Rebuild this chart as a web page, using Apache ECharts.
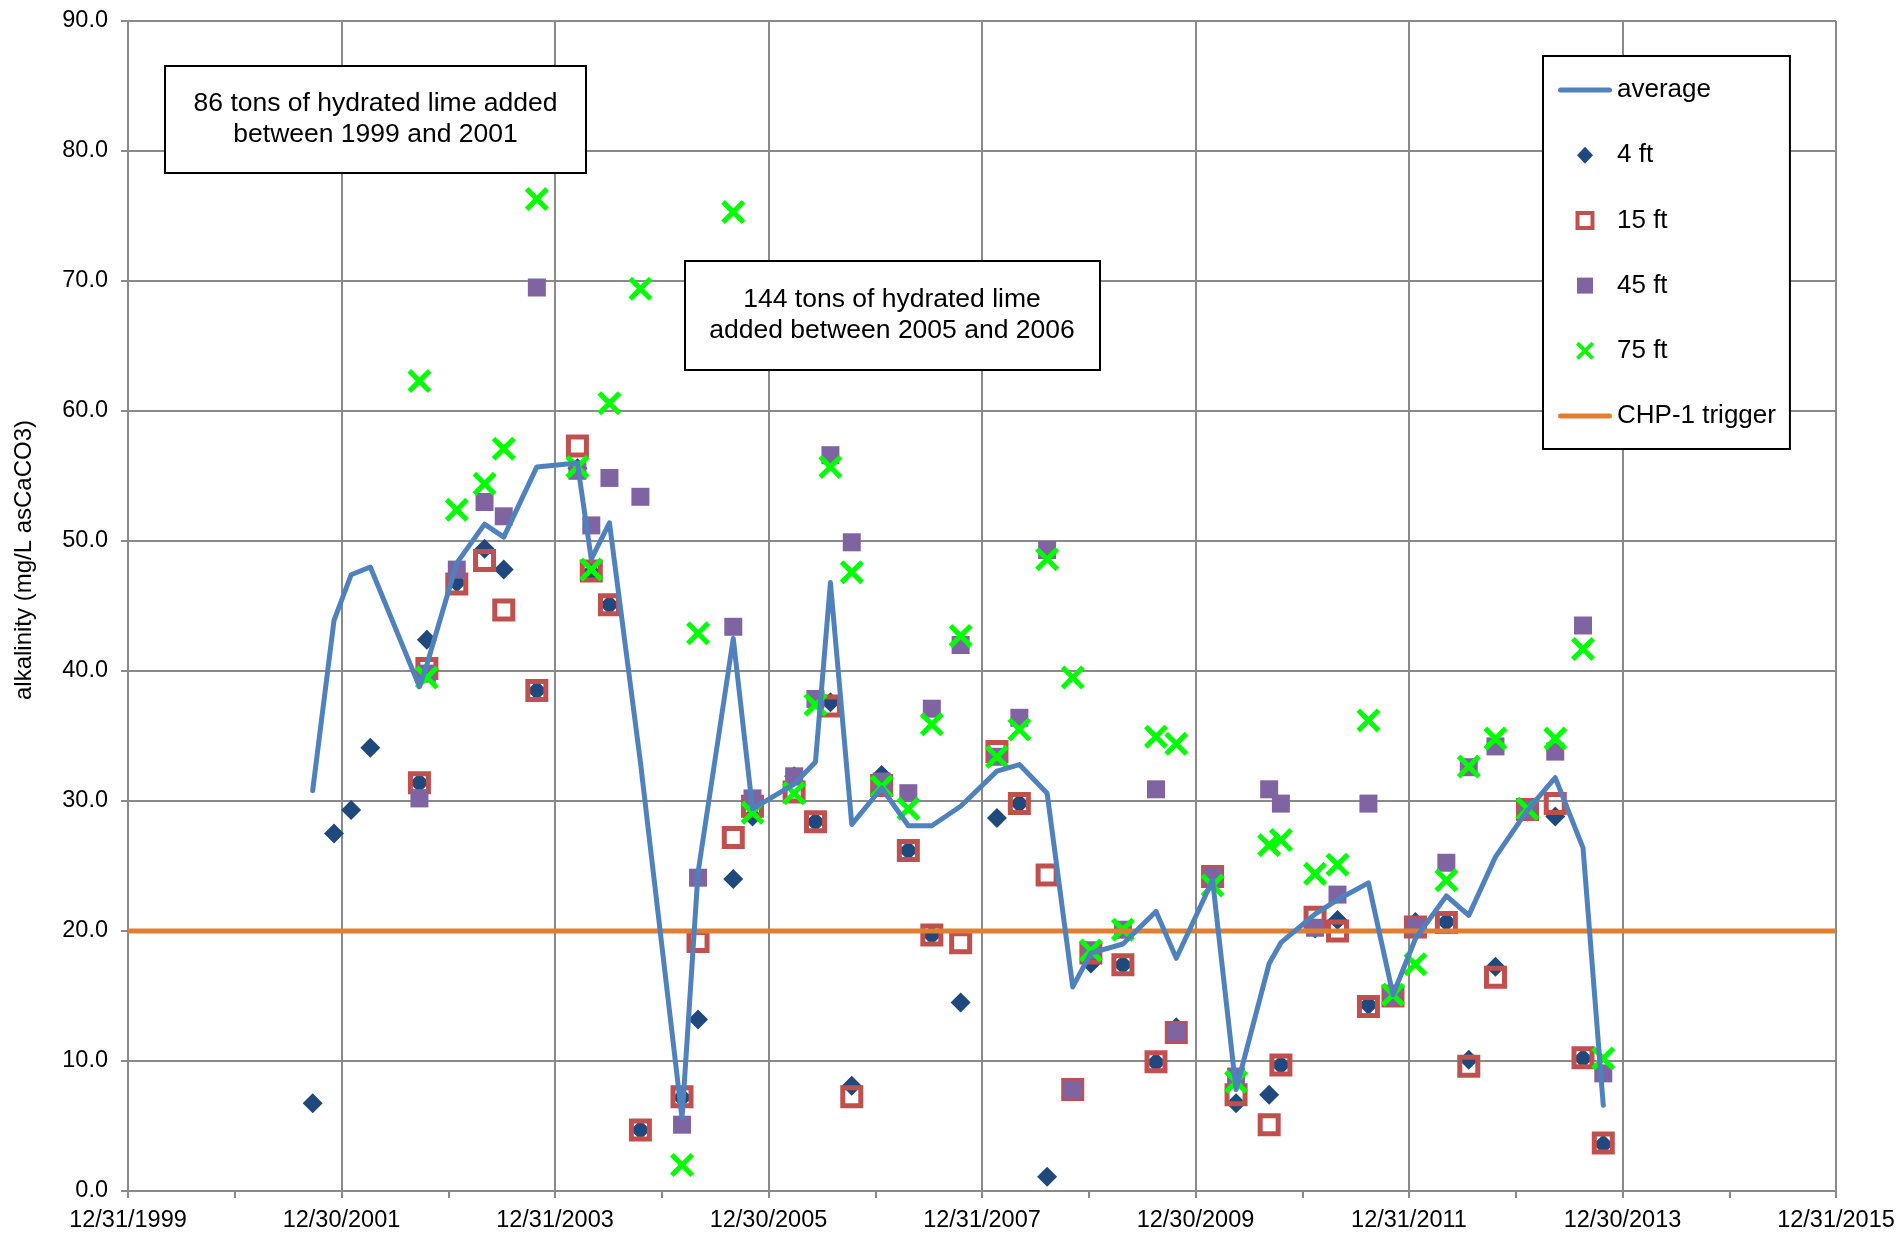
<!DOCTYPE html>
<html>
<head>
<meta charset="utf-8">
<title>alkalinity</title>
<script src="https://cdn.jsdelivr.net/npm/echarts@6/dist/echarts.min.js"></script>
<style>
  html, body { margin: 0; padding: 0; background: #fff; }
  #chart { width: 1900px; height: 1233px; }
</style>
</head>
<body>
<div id="chart"></div>
<script>
// sample dates, as decimal years
const sampleYears = [
  2001.73, 2001.93, 2002.09, 2002.27, 2002.73, 2002.80, 2003.08, 2003.34, 2003.52, 2003.83,
  2004.21, 2004.34, 2004.51, 2004.80, 2005.19, 2005.34, 2005.67, 2005.85, 2006.24, 2006.44,
  2006.58, 2006.78, 2007.06, 2007.31, 2007.53, 2007.80, 2008.14, 2008.35, 2008.61, 2008.85,
  2009.02, 2009.32, 2009.63, 2009.82, 2010.16, 2010.38, 2010.69, 2010.80, 2011.12, 2011.33,
  2011.62, 2011.85, 2012.06, 2012.35, 2012.56, 2012.81, 2013.11, 2013.37, 2013.63, 2013.82
]
const average = [
  30.8, 43.9, 47.4, 48.0, 38.8, 40.5, 48.3, 51.3, 50.3, 55.7,
  56.0, 48.6, 51.4, 33.0, 5.6, 24.5, 42.5, 29.4, 31.3, 33.0,
  46.8, 28.2, 31.0, 28.1, 28.1, 29.6, 32.3, 32.8, 30.6, 15.7,
  18.3, 19.0, 21.5, 17.9, 23.9, 7.8, 17.5, 19.1, 21.3, 22.4,
  23.7, 15.1, 19.4, 22.7, 21.2, 25.7, 29.3, 31.8, 26.4, 6.6
]
const ft4 = [
  6.75, 27.5, 29.3, 34.1, 31.4, 42.4, 46.8, 49.4, 47.8, 38.5,
  55.6, 47.6, 45.1, 4.7, 7.2, 13.2, 24.0, 28.8, 31.9, 28.4,
  37.6, 8.1, 32.0, 26.2, 19.7, 14.5, 28.7, 29.8, 1.1, 7.7,
  17.5, 17.4, 9.9, 12.6, 24.0, 6.75, 7.4, 9.7, 20.2, 20.85,
  14.3, 15.0, 20.7, 20.7, 10.1, 17.25, 29.2, 28.8, 10.2, 3.6
]
const ft15 = [
  null, null, null, null, 31.4, 40.2, 46.7, 48.5, 44.7, 38.5,
  57.3, 47.7, 45.1, 4.7, 7.25, 19.2, 27.2, 29.6, 30.7, 28.4,
  37.3, 7.25, 31.2, 26.2, 19.7, 19.1, 33.8, 29.8, 24.3, 7.8,
  18.3, 17.4, 9.95, 12.2, 24.2, 7.4, 5.1, 9.7, 21.05, 20.0,
  14.2, 15.0, 20.3, 20.65, 9.6, 16.45, 29.35, 29.8, 10.25, 3.7
]
const ft45 = [
  null, null, null, null, 30.2, 39.8, 47.8, 53.0, 51.9, 69.5,
  55.4, 51.2, 54.85, 53.4, 5.1, 24.1, 43.4, 30.2, 31.9, 37.85,
  56.6, 49.9, 31.5, 30.6, 37.1, 42.0, 33.4, 36.4, 49.3, 7.8,
  18.5, 20.1, 30.9, 12.25, 24.2, 8.8, 30.9, 29.8, 20.25, 22.8,
  29.8, 14.95, 20.3, 25.25, 32.6, 34.2, 29.35, 33.8, 43.5, 9.05
]
const ft75 = [
  null, null, null, null, 62.3, 39.5, 52.4, 54.4, 57.1, 76.3,
  55.7, 47.8, 60.6, 69.4, 2.0, 42.9, 75.3, 29.1, 30.6, 37.4,
  55.7, 47.6, 31.1, 29.4, 35.9, 42.7, 33.4, 35.5, 48.6, 39.5,
  18.5, 20.1, 34.95, 34.4, 23.5, 8.4, 26.6, 27.0, 24.4, 25.1,
  36.2, 15.1, 17.45, 23.9, 32.65, 34.8, 29.4, 34.8, 41.7, 10.2
]
const triggerLevel = 20
const xMin = 2000
const xMax = 2016
const xTickLabels = ['12/31/1999', '12/30/2001', '12/31/2003', '12/30/2005', '12/31/2007',
  '12/30/2009', '12/31/2011', '12/30/2013', '12/31/2015']

const FONT = '"Liberation Sans", Arial, sans-serif'
const GRID_GREY = '#8a8a8a'
const xMark = 'path://M15,0L50,35L85,0L100,15L65,50L100,85L85,100L50,65L15,100L0,85L35,50L0,15Z'

// legend icons live in a 54x18 box (the leading moves keep the box size)
const BOX = 'M0,0M54,18'
const iconBar = 'path://M2.5,6.5H51.5A2.5,2.5,0,0,1,51.5,11.5H2.5A2.5,2.5,0,0,1,2.5,6.5Z'
const iconDiamond = 'path://' + BOX + 'M27,0.5L35,9L27,17.5L19,9Z'
const iconHollow = 'path://' + BOX + 'M19.5,1.5H34.5V16.5H19.5Z'
const iconSquare = 'path://' + BOX + 'M19,1H35V17H19Z'
const iconX = 'path://' + BOX + 'M20.7,0L27,6.3L33.3,0L36,2.7L29.7,9L36,15.3L33.3,18L27,11.7L20.7,18L18,15.3L24.3,9L18,2.7Z'

function pairs (vals) {
  return sampleYears.map((x, i) => [x, vals[i]]).filter(p => p[1] !== null)
}

let option = {
  animation: false,
  backgroundColor: '#fff',
  textStyle: { fontFamily: FONT },
  grid: { left: 128, right: 64, top: 21, bottom: 42 },
  legend: {
    orient: 'vertical',
    left: 1543,
    top: 56,
    padding: [21, 14, 20, 13],
    itemWidth: 54,
    itemHeight: 18,
    itemGap: 39.2,
    backgroundColor: '#fff',
    borderColor: '#000',
    borderWidth: 2,
    borderRadius: 0,
    selectedMode: false,
    textStyle: { fontSize: 26, lineHeight: 26, color: '#000', fontFamily: FONT },
    data: [
      { name: 'average', icon: iconBar, itemStyle: { color: '#4F81BD' } },
      { name: '4 ft', icon: iconDiamond, itemStyle: { color: '#1F497D' } },
      { name: '15 ft', icon: iconHollow, itemStyle: { color: 'rgba(0,0,0,0)', borderColor: '#C0504D', borderWidth: 4 } },
      { name: '45 ft', icon: iconSquare, itemStyle: { color: '#8064A2' } },
      { name: '75 ft', icon: iconX, itemStyle: { color: '#00FF00' } },
      { name: 'CHP-1 trigger', icon: iconBar, itemStyle: { color: '#E07F31' } }
    ]
  },
  xAxis: {
    type: 'value',
    min: xMin,
    max: xMax,
    interval: 2,
    axisLine: { show: true, onZero: false, lineStyle: { color: GRID_GREY, width: 2 } },
    axisTick: { show: true, length: 7, lineStyle: { color: GRID_GREY, width: 2 } },
    minorTick: { show: true, splitNumber: 2, length: 7, lineStyle: { color: GRID_GREY, width: 2 } },
    splitLine: { show: true, lineStyle: { color: GRID_GREY, width: 2 } },
    axisLabel: {
      margin: 18,
      fontSize: 23.5,
      color: '#000',
      fontFamily: FONT,
      formatter: v => xTickLabels[Math.round((v - xMin) / 2)]
    }
  },
  yAxis: {
    type: 'value',
    min: 0,
    max: 90,
    interval: 10,
    axisLine: { show: true, lineStyle: { color: GRID_GREY, width: 2 } },
    axisTick: { show: true, length: 7, lineStyle: { color: GRID_GREY, width: 2 } },
    splitLine: { show: true, lineStyle: { color: GRID_GREY, width: 2 } },
    axisLabel: {
      margin: 20,
      fontSize: 23.5,
      color: '#000',
      fontFamily: FONT,
      formatter: v => v.toFixed(1)
    }
  },
  graphic: [
    {
      type: 'text',
      x: 24,
      y: 560,
      rotation: Math.PI / 2,
      style: {
        text: 'alkalinity (mg/L asCaCO3)',
        font: '24px ' + FONT,
        fill: '#000',
        textAlign: 'center',
        textVerticalAlign: 'middle'
      }
    },
    {
      type: 'rect',
      shape: { x: 165, y: 66, width: 421, height: 107 },
      style: { fill: '#fff', stroke: '#000', lineWidth: 2 },
      z: 10
    },
    {
      type: 'text',
      x: 375.5,
      y: 104,
      style: { text: '86 tons of hydrated lime added', font: '26.5px ' + FONT, fill: '#000', textAlign: 'center', textVerticalAlign: 'middle' },
      z: 11
    },
    {
      type: 'text',
      x: 375.5,
      y: 134.5,
      style: { text: 'between 1999 and 2001', font: '26.5px ' + FONT, fill: '#000', textAlign: 'center', textVerticalAlign: 'middle' },
      z: 11
    },
    {
      type: 'rect',
      shape: { x: 685, y: 261, width: 415, height: 109 },
      style: { fill: '#fff', stroke: '#000', lineWidth: 2 },
      z: 10
    },
    {
      type: 'text',
      x: 892,
      y: 300,
      style: { text: '144 tons of hydrated lime', font: '26.5px ' + FONT, fill: '#000', textAlign: 'center', textVerticalAlign: 'middle' },
      z: 11
    },
    {
      type: 'text',
      x: 892,
      y: 331,
      style: { text: 'added between 2005 and 2006', font: '26.5px ' + FONT, fill: '#000', textAlign: 'center', textVerticalAlign: 'middle' },
      z: 11
    }
  ],
  series: [
    {
      name: 'CHP-1 trigger',
      type: 'line',
      symbol: 'none',
      color: '#E07F31',
      lineStyle: { color: '#E07F31', width: 5 },
      data: [[xMin, triggerLevel], [xMax, triggerLevel]]
    },
    {
      name: 'average',
      type: 'line',
      symbol: 'none',
      color: '#4F81BD',
      lineStyle: { color: '#4F81BD', width: 5, cap: 'round', join: 'round' },
      data: pairs(average)
    },
    {
      name: '4 ft',
      type: 'scatter',
      symbol: 'diamond',
      symbolSize: 20,
      itemStyle: { color: '#1F497D', opacity: 1 },
      data: pairs(ft4)
    },
    {
      name: '15 ft',
      type: 'scatter',
      symbol: 'rect',
      symbolSize: 18,
      itemStyle: { color: 'rgba(0,0,0,0)', borderColor: '#C0504D', borderWidth: 5, opacity: 1 },
      data: pairs(ft15)
    },
    {
      name: '45 ft',
      type: 'scatter',
      symbol: 'rect',
      symbolSize: 18,
      itemStyle: { color: '#8064A2', opacity: 1 },
      data: pairs(ft45)
    },
    {
      name: '75 ft',
      type: 'scatter',
      symbol: xMark,
      symbolSize: 24,
      itemStyle: { color: '#00FF00', opacity: 1 },
      data: pairs(ft75)
    }
  ]
}

let chart = echarts.init(document.getElementById('chart'))
chart.setOption(option)
</script>
</body>
</html>
